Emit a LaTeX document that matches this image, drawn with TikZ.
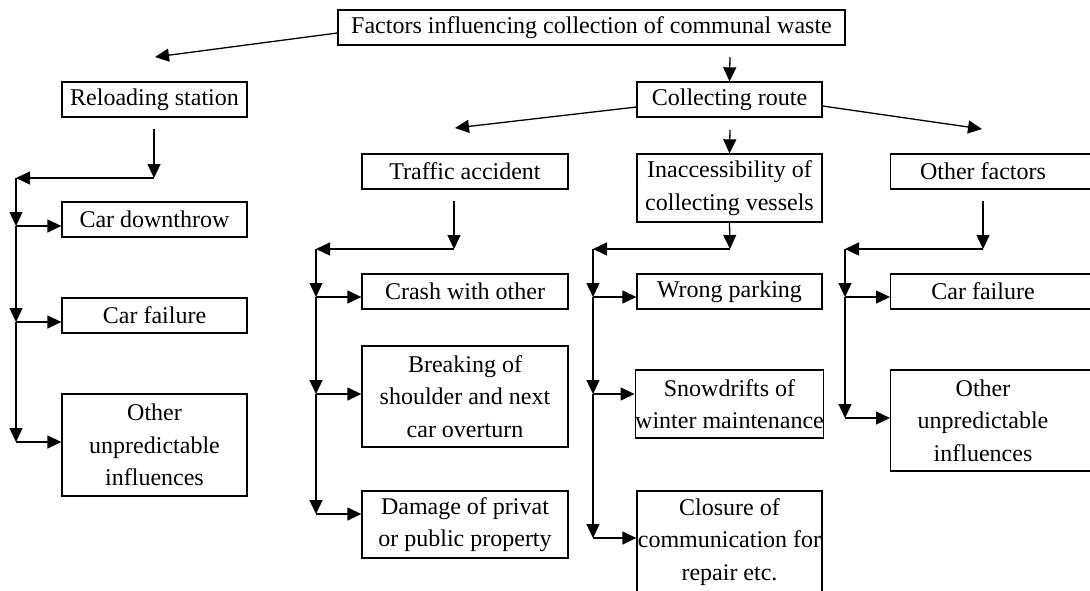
\documentclass[tikz,border=0pt]{standalone}
\usepackage{fontspec}
\setmainfont{Liberation Serif}
\usetikzlibrary{arrows.meta}
\begin{document}
\begin{tikzpicture}[x=1pt,y=-1pt,
  txt/.style={align=center, inner sep=0pt, font=\fontsize{24}{32.5}\selectfont},
  box/.style={txt, draw, line width=1.3pt},
  arr/.style={line width=1.3pt, -{Triangle[length=14pt,width=13pt]}},
  ln/.style={line width=1.3pt}]
\useasboundingbox (0,0) rectangle (1090,590);
\clip (0,0) rectangle (1090,590);
% boxes
\node[box, minimum width=507pt, minimum height=35pt] (top) at (591.5,27.5) {Factors influencing collection of communal waste};
\node[box, minimum width=185pt, minimum height=35pt] (rs) at (154.5,99.5) {Reloading station};
\node[box, minimum width=185pt, minimum height=35pt] (cd) at (154.5,219.5) {Car downthrow};
\node[box, minimum width=185pt, minimum height=35pt] (cfl) at (154.5,315.5) {Car failure};
\node[box, minimum width=185pt, minimum height=102pt] (oul) at (154.5,445) {Other\\unpredictable\\influences};
\node[box, minimum width=185pt, minimum height=35pt] (cr) at (729.5,99.5) {Collecting route};
\node[box, minimum width=206pt, minimum height=35pt] (ta) at (465,171.5) {Traffic accident};
\node[box, minimum width=185pt, minimum height=68pt] (ia) at (729.5,188) {Inaccessibility of\\collecting vessels};
\node[box, minimum width=210pt, minimum height=35pt, anchor=west] (of) at (890,171.5) {};
\node[txt] (oft) at (983,171.5) {Other factors};
\node[box, minimum width=206pt, minimum height=35pt] (cw) at (465,291.5) {Crash with other};
\node[box, minimum width=206pt, minimum height=101pt] (bs) at (465,396.5) {Breaking of\\shoulder and next\\car overturn};
\node[box, minimum width=206pt, minimum height=67pt] (dp) at (465,524.5) {Damage of privat\\or public property};
\node[box, minimum width=185pt, minimum height=35pt] (wp) at (729.5,291.5) {Wrong parking};
\node[box, minimum width=185pt, minimum height=68pt] (sw) at (729.5,404) {Snowdrifts of\\winter maintenance};
\node[box, minimum width=185pt, minimum height=102pt] (cl) at (729.5,542) {Closure of\\communication for\\repair etc.};
\node[box, minimum width=210pt, minimum height=35pt, anchor=west] (cfr) at (890,291.5) {};
\node[txt] (cfrt) at (983,291.5) {Car failure};
\node[box, minimum width=210pt, minimum height=101pt, anchor=west] (our) at (890,420.5) {};
\node[txt] (ourt) at (983,420.5) {Other\\unpredictable\\influences};
% coordinates
\coordinate (t1) at (155,57);
\coordinate (t2s) at (730,57);
\coordinate (c1) at (455,128);
\coordinate (c2) at (982,129);
\coordinate (c3s) at (730,130);
% left column
\coordinate (rs1) at (154,129);
\coordinate (rs2) at (154,178);
\coordinate (l0) at (16,178);
\coordinate (l1) at (16,226);
\coordinate (l2) at (16,322);
\coordinate (l3) at (16,442);
% traffic column
\coordinate (ta1) at (454,201);
\coordinate (ta2) at (454,249);
\coordinate (m0) at (316,249);
\coordinate (m1) at (316,297);
\coordinate (m2) at (316,394);
\coordinate (m3) at (316,514);
% inaccessibility column
\coordinate (ia2) at (730,249);
\coordinate (n0) at (593,249);
\coordinate (n1) at (593,297);
\coordinate (n2) at (593,394);
\coordinate (n3) at (593,538);
% other factors column
\coordinate (of1) at (983,201);
\coordinate (of2) at (983,249);
\coordinate (r0) at (845,249);
\coordinate (r1) at (845,297);
\coordinate (r2) at (845,418);
% top-level arrows
\draw[arr] (top.west |- 0,33) -- (t1);
\draw[arr] (t2s) -- (cr.north);
\draw[arr] (cr.west |- 0,107) -- (c1);
\draw[arr] (cr.east |- 0,106) -- (c2);
\draw[arr] (c3s) -- (ia.north);
% left column
\draw[arr] (rs1) -- (rs2);
\draw[arr] (rs2) -- (l0);
\draw[arr] (l0) -- (l1);
\draw[arr] (l1) -- (l2);
\draw[arr] (l2) -- (l3);
\draw[arr] (l1) -- (cd.west |- l1);
\draw[arr] (l2) -- (cfl.west |- l2);
\draw[arr] (l3) -- (oul.west |- l3);
% traffic column
\draw[arr] (ta1) -- (ta2);
\draw[arr] (ta2) -- (m0);
\draw[arr] (m0) -- (m1);
\draw[arr] (m1) -- (m2);
\draw[arr] (m2) -- (m3);
\draw[arr] (m1) -- (cw.west |- m1);
\draw[arr] (m2) -- (bs.west |- m2);
\draw[arr] (m3) -- (dp.west |- m3);
% inaccessibility column
\draw[arr] (ia.south) -- (ia2);
\draw[arr] (ia2) -- (n0);
\draw[arr] (n0) -- (n1);
\draw[arr] (n1) -- (n2);
\draw[arr] (n2) -- (n3);
\draw[arr] (n1) -- (wp.west |- n1);
\draw[arr] (n2) -- (sw.west |- n2);
\draw[arr] (n3) -- (cl.west |- n3);
% other factors column
\draw[arr] (of1) -- (of2);
\draw[arr] (of2) -- (r0);
\draw[arr] (r0) -- (r1);
\draw[arr] (r1) -- (r2);
\draw[arr] (r1) -- (cfr.west |- r1);
\draw[arr] (r2) -- (our.west |- r2);
\end{tikzpicture}
\end{document}
